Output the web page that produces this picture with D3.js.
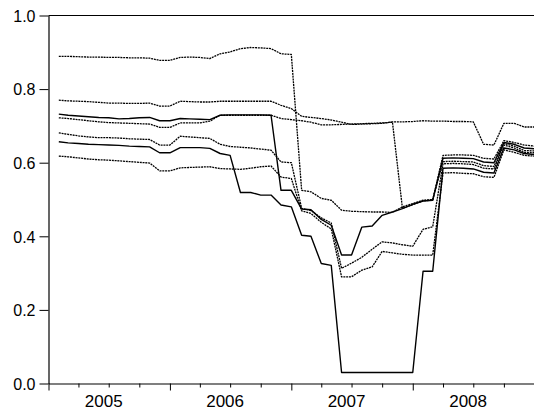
<!DOCTYPE html>
<html>
<head>
<meta charset="utf-8">
<script src="https://cdn.jsdelivr.net/npm/d3@7"></script>
<style>
  html, body { margin: 0; padding: 0; background: #fff; }
  svg { display: block; }
  text { font-family: "Liberation Sans", Arial, sans-serif; fill: #000; }
</style>
</head>
<body>
<svg id="chart" width="534" height="412"></svg>
<script>
// Monthly observations, Jan 2005 – Dec 2008, plotted at the end of each month
const periodEnds = d3.timeMonth.range(new Date(2005, 1, 1), new Date(2009, 1, 1));

const s1 = [0.889, 0.889, 0.888, 0.887, 0.887, 0.886, 0.886, 0.885, 0.885, 0.884,
            0.878, 0.878, 0.886, 0.887, 0.886, 0.883, 0.896, 0.901, 0.910, 0.913,
            0.912, 0.910, 0.896, 0.894, 0.525, 0.521, 0.503, 0.498, 0.471, 0.468,
            0.467, 0.466, 0.466, 0.465, 0.480, 0.489, 0.498, 0.500,
            0.603, 0.604, 0.603, 0.602, 0.592, 0.590, 0.652, 0.645, 0.633, 0.632];
const s2 = [0.770, 0.768, 0.767, 0.766, 0.764, 0.762, 0.762, 0.761, 0.761, 0.762,
            0.754, 0.754, 0.767, 0.766, 0.765, 0.765, 0.767, 0.767, 0.767, 0.767,
            0.767, 0.767, 0.756, 0.747, 0.726, 0.723, 0.720, 0.716, 0.710, 0.704,
            0.705, 0.706, 0.707, 0.711, 0.711, 0.712, 0.714, 0.713, 0.713, 0.712,
            0.712, 0.711, 0.650, 0.648, 0.707, 0.707, 0.697, 0.697];
const s3 = [0.732, 0.729, 0.727, 0.725, 0.723, 0.722, 0.719, 0.720, 0.722, 0.723,
            0.714, 0.714, 0.720, 0.719, 0.718, 0.717, 0.729, 0.730, 0.730, 0.730,
            0.730, 0.729, 0.525, 0.525, 0.474, 0.472, 0.446, 0.430, 0.349, 0.349,
            0.425, 0.428, 0.457, 0.466, 0.475, 0.487, 0.496, 0.498,
            0.612, 0.613, 0.612, 0.611, 0.602, 0.600, 0.655, 0.650, 0.640, 0.638];
const s4 = [0.722, 0.720, 0.717, 0.714, 0.711, 0.709, 0.708, 0.707, 0.706, 0.705,
            0.696, 0.696, 0.708, 0.708, 0.708, 0.713, 0.729, 0.729, 0.729, 0.729,
            0.729, 0.729, 0.720, 0.717, 0.714, 0.710, 0.703, 0.703, 0.704, 0.705,
            0.706, 0.707, 0.708, 0.710, 0.476, 0.486, 0.496, 0.499,
            0.620, 0.621, 0.621, 0.620, 0.612, 0.610, 0.660, 0.655, 0.648, 0.645];
const s5 = [0.681, 0.677, 0.673, 0.670, 0.668, 0.668, 0.667, 0.665, 0.664, 0.663,
            0.648, 0.648, 0.672, 0.670, 0.668, 0.666, 0.650, 0.644, 0.642, 0.640,
            0.637, 0.634, 0.602, 0.600, 0.476, 0.470, 0.450, 0.436, 0.313, 0.327,
            0.343, 0.365, 0.385, 0.382, 0.377, 0.373, 0.419, 0.426,
            0.597, 0.598, 0.597, 0.595, 0.585, 0.583, 0.648, 0.640, 0.628, 0.627];
const s6 = [0.657, 0.654, 0.652, 0.650, 0.649, 0.648, 0.647, 0.645, 0.644, 0.643,
            0.627, 0.627, 0.641, 0.641, 0.641, 0.639, 0.625, 0.620, 0.519, 0.519,
            0.512, 0.512, 0.485, 0.480, 0.403, 0.400, 0.326, 0.321, 0.030, 0.030,
            0.030, 0.030, 0.030, 0.030, 0.030, 0.030, 0.305, 0.305,
            0.585, 0.586, 0.585, 0.583, 0.574, 0.572, 0.640, 0.635, 0.625, 0.622];
const s7 = [0.618, 0.616, 0.613, 0.610, 0.608, 0.607, 0.605, 0.603, 0.601, 0.599,
            0.578, 0.578, 0.586, 0.587, 0.588, 0.589, 0.584, 0.583, 0.582, 0.585,
            0.589, 0.591, 0.561, 0.557, 0.469, 0.462, 0.438, 0.420, 0.290, 0.290,
            0.308, 0.317, 0.359, 0.355, 0.351, 0.349, 0.349, 0.349,
            0.572, 0.573, 0.571, 0.570, 0.562, 0.560, 0.635, 0.628, 0.620, 0.618];

const yTicks = [0.0, 0.2, 0.4, 0.6, 0.8, 1.0];
const yearLabels = [2005, 2006, 2007, 2008];

// solid = heavier black trace, otherwise a fine stippled trace
const series = [
  { values: s1, solid: false },
  { values: s2, solid: false },
  { values: s4, solid: false },
  { values: s5, solid: false },
  { values: s7, solid: false },
  { values: s3, solid: true },
  { values: s6, solid: true }
];

const svg = d3.select("#chart");
const plotLeft = 48.5, plotRight = 534.5, plotTop = 15.5, plotBottom = 383.5;

const x = d3.scaleTime()
  .domain([new Date(2005, 0, 1), new Date(2009, 0, 1)])
  .range([plotLeft, plotRight]);
const y = d3.scaleLinear().domain([0, 1]).range([plotBottom, plotTop]);

// frame: top rule
svg.append("line")
  .attr("x1", plotLeft).attr("x2", plotRight)
  .attr("y1", plotTop).attr("y2", plotTop)
  .attr("stroke", "#000").attr("stroke-width", 1.2);

// y axis
const yAxis = svg.append("g")
  .attr("transform", `translate(${plotLeft},0)`)
  .call(d3.axisLeft(y).tickValues(yTicks).tickFormat(d3.format(".1f"))
    .tickSize(9).tickSizeOuter(0).tickPadding(4));
yAxis.selectAll("text").style("font-size", "16px").attr("dy", "0.36em");

// x axis: quarterly minor ticks, longer ticks at year starts
const quarters = d3.timeMonth.every(3).range(new Date(2005, 0, 1), new Date(2009, 0, 1));
const xAxis = svg.append("g")
  .attr("transform", `translate(0,${plotBottom})`)
  .call(d3.axisBottom(x).tickValues(quarters).tickFormat("")
    .tickSize(4).tickSizeOuter(0));
xAxis.selectAll(".tick line")
  .attr("y2", d => d.getMonth() === 0 ? 7 : 4);

svg.selectAll(".domain").attr("stroke", "#000").attr("stroke-width", 1.2);
svg.selectAll(".tick line").attr("stroke", "#000");

// year labels under each year span
svg.append("g").selectAll("text")
  .data(yearLabels)
  .join("text")
  .attr("x", d => (x(new Date(d, 0, 1)) + x(new Date(d + 1, 0, 1))) / 2 - 5.5)
  .attr("y", 407)
  .attr("text-anchor", "middle")
  .style("font-size", "17px")
  .text(d => d);

// series traces
const line = d3.line()
  .x((d, i) => x(periodEnds[i]))
  .y(d => y(d));

svg.append("g").selectAll("path")
  .data(series)
  .join("path")
  .attr("fill", "none")
  .attr("stroke", "#000")
  .attr("stroke-width", d => d.solid ? 1.4 : 1.3)
  .attr("stroke-dasharray", d => d.solid ? null : "2,0.8")
  .attr("stroke-linejoin", "round")
  .attr("d", d => line(d.values));
</script>
</body>
</html>
